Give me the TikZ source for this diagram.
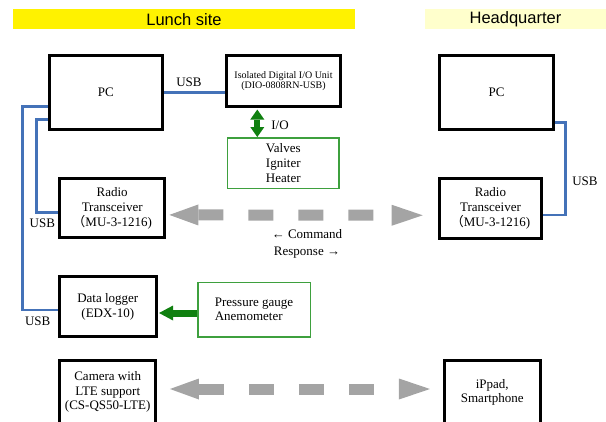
\documentclass[tikz,border=0pt]{standalone}
\usepackage{fontspec}
\setmainfont{Liberation Serif}
\newfontfamily\headfont{Liberation Sans}
\newfontfamily\cjk{Noto Sans CJK JP}
\usetikzlibrary{arrows.meta,calc}
\definecolor{sitebar}{RGB}{255,242,0}
\definecolor{hqbar}{RGB}{255,255,204}
\definecolor{usbblue}{RGB}{68,114,184}
\definecolor{iogreen}{RGB}{16,128,16}
\definecolor{boxgreen}{RGB}{62,160,62}
\definecolor{linkgray}{RGB}{164,164,164}
\tikzset{
  bar/.style={fill, inner sep=0pt, minimum height=20pt, font=\headfont\fontsize{16.5}{18}\selectfont},
  unit/.style={draw=black, line width=3pt, fill=white, inner sep=0pt, align=center,
    font=\fontsize{13}{15}\selectfont},
  field/.style={draw=boxgreen, line width=1.5pt, fill=white, inner sep=0pt, align=center,
    font=\fontsize{13}{15}\selectfont},
  usb/.style={draw=usbblue, line width=2.7pt},
  lbl/.style={inner sep=0pt, font=\fontsize{13}{15}\selectfont},
  iolink/.style={draw=iogreen, line width=6.3pt},
  radiolink/.style={draw=linkgray, line width=11pt, dash pattern=on 25pt off 25pt,
    arrows={Triangle[length=29pt,width=21pt,line width=0pt]-Triangle[length=31pt,width=21pt,line width=0pt]}}
}
\begin{document}
\begin{tikzpicture}[x=1pt,y=-1pt]
\useasboundingbox (0,0) rectangle (606,421);
\clip (0,0) rectangle (606,421);

% section headers
\node[bar, fill=sitebar, minimum width=342pt] (lunch) at (184,19.3) {Lunch site};
\node[bar, fill=hqbar, minimum width=182pt] (hq) at (515.5,19.3) {Headquarter};

% USB cabling (drawn first so the boxes sit on top of the line ends)
\coordinate (trunkA) at (22.7,250);
\coordinate (trunkB) at (36.7,160);
\coordinate (trunkC) at (565.7,160);

% launch site equipment
\node[unit, minimum width=113.5pt, minimum height=74pt] (pc) at (105.8,92.5) {PC};
\node[unit, font=\fontsize{10}{10.7}\selectfont, minimum width=114pt, minimum height=51pt] (dio) at (283.5,81)
  {Isolated Digital I/O Unit\\(DIO-0808RN-USB)};
\node[field, minimum width=111.8pt, minimum height=50.8pt] (valves) at (283.3,163.2) {Valves\\Igniter\\Heater};
\node[unit, minimum width=104.7pt, minimum height=59.3pt] (radioL) at (112.2,207.9)
  {Radio\\Transceiver\\{\cjk （}MU-3-1216)};
\node[unit, minimum width=96.5pt, minimum height=60pt] (logger) at (107.8,306.5) {Data logger\\(EDX-10)};
\node[field, align=left, font=\fontsize{13}{14}\selectfont, minimum width=112.5pt, minimum height=54.5pt]
  (sensors) at (254,309.7) {Pressure gauge\\Anemometer};
\node[unit, font=\fontsize{13}{14.5}\selectfont, minimum width=95.5pt, minimum height=63pt] (camera) at (107.7,392)
  {Camera with\\LTE support\\(CS-QS50-LTE)};

% headquarter equipment
\node[unit, minimum width=114pt, minimum height=74pt] (pcR) at (496.5,92.5) {PC};
\node[unit, minimum width=102pt, minimum height=60.3pt] (radioR) at (490.5,208.3)
  {Radio\\Transceiver\\{\cjk （}MU-3-1216)};
\node[unit, font=\fontsize{13}{14}\selectfont, minimum width=96.3pt, minimum height=63pt] (phone) at (492.3,392)
  {iPpad,\\Smartphone};

% USB links
\draw[usb] (pc.east) -- (pc.east -| dio.west);
\draw[usb] ([yshift=-14.2pt]pc.west) -| (trunkA) |- ([yshift=-3.5pt]logger.west);
\draw[usb] ([yshift=-26.8pt]pc.west) -| (trunkB) |- ([yshift=-4.3pt]radioL.west);
\draw[usb] ([yshift=-30.2pt]pcR.east) -| (trunkC) |- ([yshift=-6.7pt]radioR.east);
\node[lbl] (usbA) at (189,82) {USB};
\node[lbl] (usbB) at (42.3,223.3) {USB};
\node[lbl] (usbC) at (37.7,321.7) {USB};
\node[lbl] (usbD) at (585,181.7) {USB};

% digital I/O and sensor signals
\draw[iolink, arrows={Triangle[length=10pt,width=14pt,line width=0pt]-Triangle[length=10pt,width=14pt,line width=0pt]}]
  ([xshift=-26.2pt,yshift=-1.5pt]dio.south) -- ([xshift=-26pt]valves.north);
\node[lbl] (io) at (280,125) {I/O};
\draw[iolink, line width=7pt, arrows={-Triangle[length=14pt,width=15pt,line width=0pt]}]
  ([yshift=-3.3pt]sensors.west) -- ([xshift=1.5pt,yshift=-3.3pt]sensors.west -| logger.east);

% wireless links
\draw[radiolink] ([xshift=3.3pt,yshift=-7pt]radioL.east) -- ([xshift=-15.3pt,yshift=-7pt]radioR.west);
\node[lbl, align=center, font=\fontsize{13}{17.7}\selectfont] (cmd) at (307,244) {← Command\\Response →};
\draw[radiolink] ([xshift=13pt,yshift=3pt]camera.east) -- ([xshift=-12.7pt,yshift=3pt]phone.west);
\end{tikzpicture}
\end{document}
